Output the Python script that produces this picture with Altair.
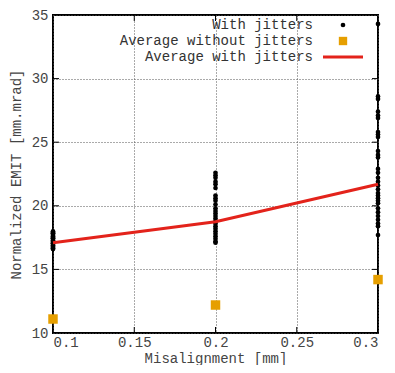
import altair as alt
import pandas as pd

x_ticks = [0.1, 0.15, 0.2, 0.25, 0.3]
y_ticks = [10, 15, 20, 25, 30, 35]

misalign = [0.1, 0.2, 0.3]
avg_without = [11.1, 12.2, 14.2]
avg_with = [17.1, 18.75, 21.7]

jit_01 = [16.6, 16.7, 16.8, 16.9, 17.0, 17.1, 17.2, 17.3, 17.4, 17.5,
          17.6, 17.7, 17.8, 17.9, 18.0, 16.65, 17.05, 17.45, 17.85]
jit_02 = [22.6, 22.4, 22.2, 21.9, 21.7, 21.4, 20.8, 20.6, 20.4, 20.1,
          19.8, 19.6, 19.4, 19.2, 19.0, 18.8, 18.6, 18.4, 18.2, 18.0,
          17.8, 17.6, 17.4, 17.2, 17.1]
jit_03 = [34.3, 28.6, 28.4, 27.4, 27.1, 26.9, 25.8, 25.6, 25.4, 24.3,
          24.0, 23.8, 22.9, 22.6, 22.2, 21.9, 21.6, 21.3, 21.0, 20.8,
          20.6, 20.4, 20.2, 19.8, 19.5, 19.2, 18.9, 18.6, 18.4, 17.7]

legend_labels = ["With jitters", "Average without jitters", "Average with jitters"]

FONT = "Liberation Mono"
ORANGE = "#e69f00"
RED = "#e3231b"

W, H = 325, 318
PAD = {"left": 45, "top": 7, "right": 9, "bottom": 32}

jit_df = pd.DataFrame(
    [{"x": 0.1, "y": v} for v in jit_01]
    + [{"x": 0.2, "y": v} for v in jit_02]
    + [{"x": 0.3, "y": v} for v in jit_03]
)
avg_df = pd.DataFrame({"x": misalign, "wo": avg_without, "w": avg_with})

xscale = alt.Scale(domain=[0.1, 0.3], nice=False, zero=False)
yscale = alt.Scale(domain=[10, 35], nice=False, zero=False)

xaxis = alt.Axis(values=x_ticks, format=".2~f", title="Misalignment [mm]",
                 grid=True, ticks=False, domain=False, labelPadding=2,
                 titleY=PAD["bottom"], titleBaseline="bottom")
yaxis = alt.Axis(values=y_ticks, title="Normalized EMIT [mm.mrad]",
                 grid=True, ticks=False, domain=False, labelPadding=5,
                 titlePadding=8)


def X(field):
    return alt.X(field, scale=xscale, axis=xaxis)


def Y(field):
    return alt.Y(field, scale=yscale, axis=yaxis)


points = alt.Chart(jit_df).mark_circle(color="black", opacity=1, size=22).encode(
    x=X("x:Q"), y=Y("y:Q"),
)
line = alt.Chart(avg_df).mark_line(color=RED, strokeWidth=3).encode(
    x=X("x:Q"), y=Y("w:Q")
)
squares = alt.Chart(avg_df).mark_square(color=ORANGE, opacity=1, size=90).encode(
    x=X("x:Q"), y=Y("wo:Q")
)

# inward ticks (gnuplot style), mirrored
xt_df = pd.DataFrame({"x": x_ticks[1:-1]})
yt_df = pd.DataFrame({"y": y_ticks[1:-1]})
xt_bot = alt.Chart(xt_df).mark_rule(color="black").encode(
    x=X("x:Q"), y=alt.value(H), y2=alt.value(H - 6))
xt_top = alt.Chart(xt_df).mark_rule(color="black").encode(
    x=X("x:Q"), y=alt.value(0), y2=alt.value(6))
yt_left = alt.Chart(yt_df).mark_rule(color="black").encode(
    y=Y("y:Q"), x=alt.value(0), x2=alt.value(6))
yt_right = alt.Chart(yt_df).mark_rule(color="black").encode(
    y=Y("y:Q"), x=alt.value(W), x2=alt.value(W - 6))

# legend (inside, top right)
leg_df = pd.DataFrame({"label": legend_labels})
leg_rows = [10, 26, 42]
leg_texts = [
    alt.Chart(leg_df.iloc[[i]]).mark_text(
        align="right", baseline="middle", font=FONT, fontSize=14, color="#333"
    ).encode(text="label:N", x=alt.value(260), y=alt.value(leg_rows[i]))
    for i in range(3)
]
leg_dot = alt.Chart(leg_df.iloc[[0]]).mark_circle(color="black", opacity=1, size=22).encode(
    x=alt.value(290), y=alt.value(leg_rows[0]))
leg_sq = alt.Chart(leg_df.iloc[[1]]).mark_square(color=ORANGE, opacity=1, size=70).encode(
    x=alt.value(290), y=alt.value(leg_rows[1]))
leg_line = alt.Chart(leg_df.iloc[[2]]).mark_rule(color=RED, strokeWidth=3).encode(
    x=alt.value(270), x2=alt.value(310), y=alt.value(leg_rows[2]))

chart = alt.layer(
    points, xt_bot, xt_top, yt_left, yt_right, line, squares,
    *leg_texts, leg_dot, leg_sq, leg_line
).properties(
    width=W, height=H,
    autosize=alt.AutoSizeParams(type="none"),
    padding=PAD,
).configure_view(
    stroke="black", strokeWidth=2
).configure_axis(
    labelFont=FONT, titleFont=FONT, labelFontSize=14, titleFontSize=14,
    labelColor="#444", titleColor="#444", titleFontWeight="normal",
    gridColor="#555", gridDash=[1, 2], gridWidth=1,
)

chart.save("out.html", embed_options={"renderer": "svg", "actions": False})
